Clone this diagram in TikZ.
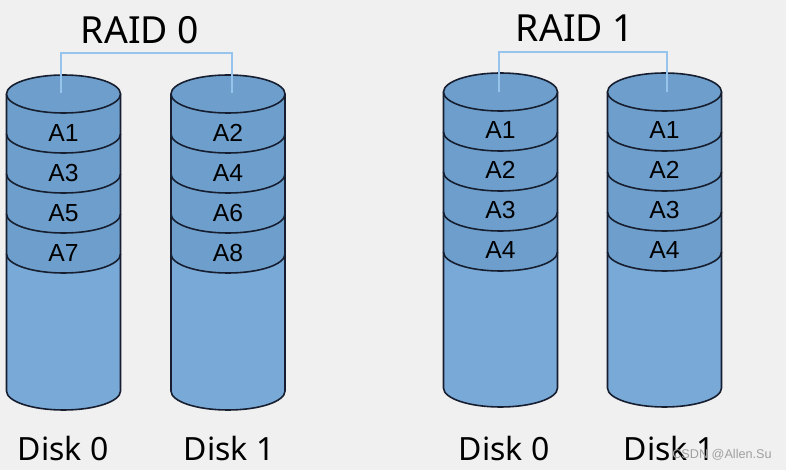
\documentclass[tikz,border=0pt]{standalone}
\usepackage{fontspec}
\setmainfont{Noto Sans}
\newfontfamily\blockfont{Liberation Sans}
\usepackage{xcolor}
\usepackage{tikz}
\usetikzlibrary{positioning}
\definecolor{bgcolor}{RGB}{240,240,241}
\definecolor{diskbody}{RGB}{121,169,214}
\definecolor{diskband}{RGB}{110,159,204}
\definecolor{diskedge}{RGB}{22,30,48}
\definecolor{bracket}{RGB}{150,196,236}
\definecolor{mark}{RGB}{160,160,160}
\tikzset{
    body/.style={fill=diskbody},
    band/.style={fill=diskband},
    outline/.style={draw=diskedge, line width=1.2pt},
    block/.style={font=\blockfont\fontsize{18.5}{20}\selectfont, inner sep=0pt},
    title/.style={font=\fontsize{28}{32}\selectfont, inner sep=0pt},
    disklabel/.style={font=\fontsize{24}{28}\selectfont, inner sep=0pt},
    link/.style={draw=bracket, line width=1.6pt},
    watermark/.style={font=\blockfont\fontsize{9.5}{11}\selectfont, text=mark, inner sep=0pt}
}
% #1 centre x, #2 top y, #3 bottom y
\newcommand{\drawdisk}[3]{%
    \fill[body] ({#1-57},#2) -- ({#1-57},#3) arc[start angle=180, end angle=360, x radius=57, y radius=19] -- ({#1+57},#2) -- cycle;
    \fill[band] ({#1-57},#2) -- ({#1-57},{#2-160}) arc[start angle=180, end angle=360, x radius=57, y radius=19] -- ({#1+57},#2) -- cycle;
    \draw[outline] ({#1-57},#2) -- ({#1-57},#3) arc[start angle=180, end angle=360, x radius=57, y radius=19] -- ({#1+57},#2);
    \foreach \k in {1,...,4}
        \draw[outline] ({#1-57},{#2-40*\k}) arc[start angle=180, end angle=360, x radius=57, y radius=19];
    \draw[outline, band] (#1,#2) ellipse[x radius=57, y radius=19];
}

\begin{document}
\begin{tikzpicture}[x=0.75pt, y=0.75pt]
    \useasboundingbox (0,0) rectangle (786,-470);
    \fill[bgcolor] (0,0) rectangle (786,-470);

    % Disks
    \drawdisk{63.5}{-94}{-391}
    \drawdisk{228}{-94}{-391}
    \drawdisk{500.5}{-92}{-388}
    \drawdisk{664.5}{-92}{-388}

    % RAID 0
    \node[title] (raid0) at (140,-30) {RAID 0};
    \coordinate (r0bar) at (146,-53);
    \coordinate (r0d0) at (61,-93);
    \coordinate (r0d1) at (232,-93);
    \draw[link] (r0d0) |- (r0bar) -| (r0d1);

    \node[block] (r0a1) at (63.5,-133) {A1};
    \node[block] (r0a3) at (63.5,-173) {A3};
    \node[block] (r0a5) at (63.5,-213) {A5};
    \node[block] (r0a7) at (63.5,-253) {A7};
    \node[block] (r0a2) at (228,-133) {A2};
    \node[block] (r0a4) at (228,-173) {A4};
    \node[block] (r0a6) at (228,-213) {A6};
    \node[block] (r0a8) at (228,-253) {A8};

    \node[disklabel] (r0disk0) at (63,-448) {Disk 0};
    \node[disklabel] (r0disk1) at (229,-448) {Disk 1};

    % RAID 1
    \node[title] (raid1) at (575,-28) {RAID 1};
    \coordinate (r1bar) at (583,-52);
    \coordinate (r1d0) at (499,-92);
    \coordinate (r1d1) at (667,-92);
    \draw[link] (r1d0) |- (r1bar) -| (r1d1);

    \node[block] (r1a1) at (500.5,-130) {A1};
    \node[block] (r1a2) at (500.5,-170) {A2};
    \node[block] (r1a3) at (500.5,-210) {A3};
    \node[block] (r1a4) at (500.5,-250) {A4};
    \node[block] (r1b1) at (664.5,-130) {A1};
    \node[block] (r1b2) at (664.5,-170) {A2};
    \node[block] (r1b3) at (664.5,-210) {A3};
    \node[block] (r1b4) at (664.5,-250) {A4};

    \node[disklabel] (r1disk0) at (504,-448) {Disk 0};
    \node[disklabel] (r1disk1) at (669,-448) {Disk 1};

    \node[watermark] (csdn) at (722,-455) {CSDN @Allen.Su};
\end{tikzpicture}
\end{document}
